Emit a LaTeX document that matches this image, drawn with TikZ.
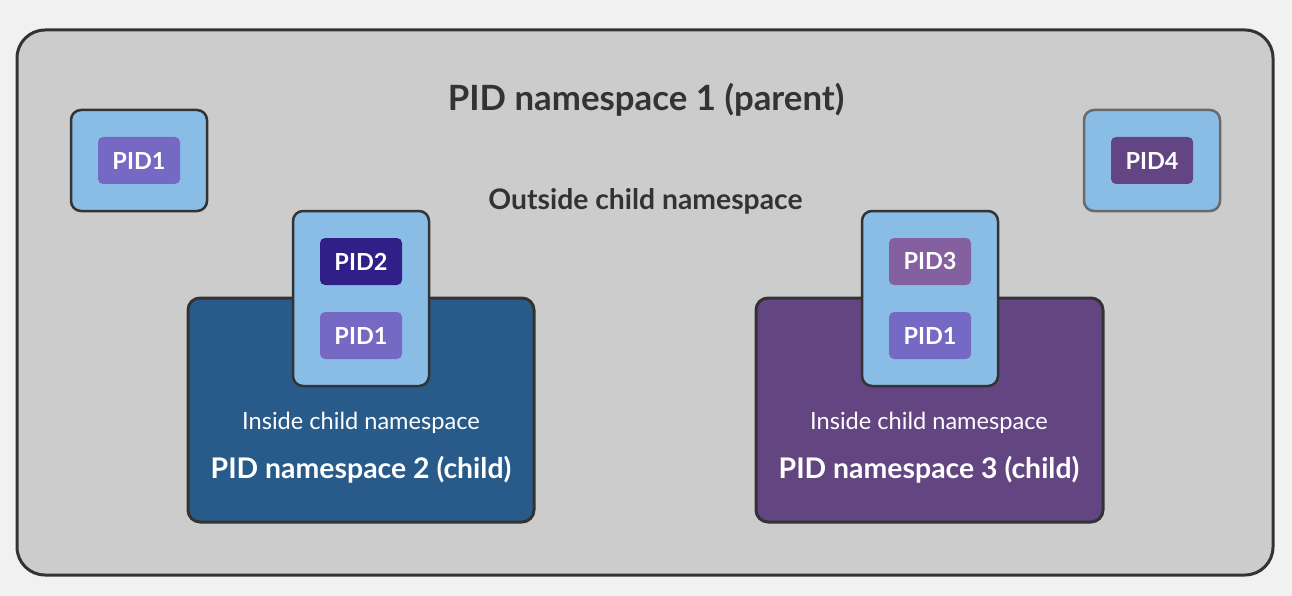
\documentclass[tikz,border=0pt]{standalone}
\usepackage{fontspec}
\setmainfont{Lato}
\definecolor{bgc}{HTML}{F1F1F1}
\definecolor{outerc}{HTML}{CCCCCC}
\definecolor{edgec}{HTML}{333333}
\definecolor{edgeg}{HTML}{6A6A6A}
\definecolor{bluec}{HTML}{8ABDE6}
\definecolor{ns2c}{HTML}{285B89}
\definecolor{ns3c}{HTML}{634581}
\definecolor{pidA}{HTML}{7569C4}
\definecolor{pidB}{HTML}{2F1F86}
\definecolor{pidC}{HTML}{8560A0}
\definecolor{pidD}{HTML}{634584}
\definecolor{textc}{HTML}{333333}
\tikzset{
  outerbox/.style={draw=edgec, line width=3pt, fill=outerc, rounded corners=28pt},
  nsbox/.style={draw=edgec, line width=3pt, rounded corners=12pt},
  procbox/.style={draw=edgec, line width=2.5pt, fill=bluec, rounded corners=10pt},
  chip/.style={rounded corners=5pt, minimum width=82pt, minimum height=47pt, inner sep=0pt, text=white, font=\bfseries\fontsize{23.5}{28}\selectfont},
  title/.style={text=textc, font=\bfseries\fontsize{34.8}{40}\selectfont},
  subtitle/.style={text=textc, font=\bfseries\fontsize{28.3}{34}\selectfont},
  inlabel/.style={text=white, font=\fontsize{23.6}{28}\selectfont},
  nslabel/.style={text=white, font=\bfseries\fontsize{28.4}{34}\selectfont},
}
\begin{document}
\begin{tikzpicture}[x=1pt,y=-1pt]
\useasboundingbox[fill=bgc] (0,0) rectangle (1292,596);
\draw[outerbox] (17,30) rectangle (1273,575);
\node[title] (t1) at (646,100) {PID namespace 1 (parent)};
\node[subtitle] (t2) at (645.5,201) {Outside child namespace};
% top-left process
\draw[procbox] (71,110) rectangle (207,211);
\node[chip, fill=pidA] (p1) at (139,160.5) {PID1};
% top-right process
\draw[procbox, draw=edgeg] (1084,110) rectangle (1220,211);
\node[chip, fill=pidD] (p4) at (1152,160.5) {PID4};
% namespace 2
\draw[nsbox, fill=ns2c] (188,298) rectangle (534,522);
\draw[procbox] (293,211) rectangle (429,386);
\node[chip, fill=pidB] (p2) at (361,261.5) {PID2};
\node[chip, fill=pidA] (p2a) at (361,335.5) {PID1};
\node[inlabel] (i2) at (361,423) {Inside child namespace};
\node[nslabel] (n2) at (361,470) {PID namespace 2 (child)};
% namespace 3
\draw[nsbox, fill=ns3c] (756,298) rectangle (1103,522);
\draw[procbox] (862,211) rectangle (998,386);
\node[chip, fill=pidC] (p3) at (930,261.5) {PID3};
\node[chip, fill=pidA] (p3a) at (930,335.5) {PID1};
\node[inlabel] (i3) at (929,423) {Inside child namespace};
\node[nslabel] (n3) at (929,470) {PID namespace 3 (child)};
\end{tikzpicture}
\end{document}
